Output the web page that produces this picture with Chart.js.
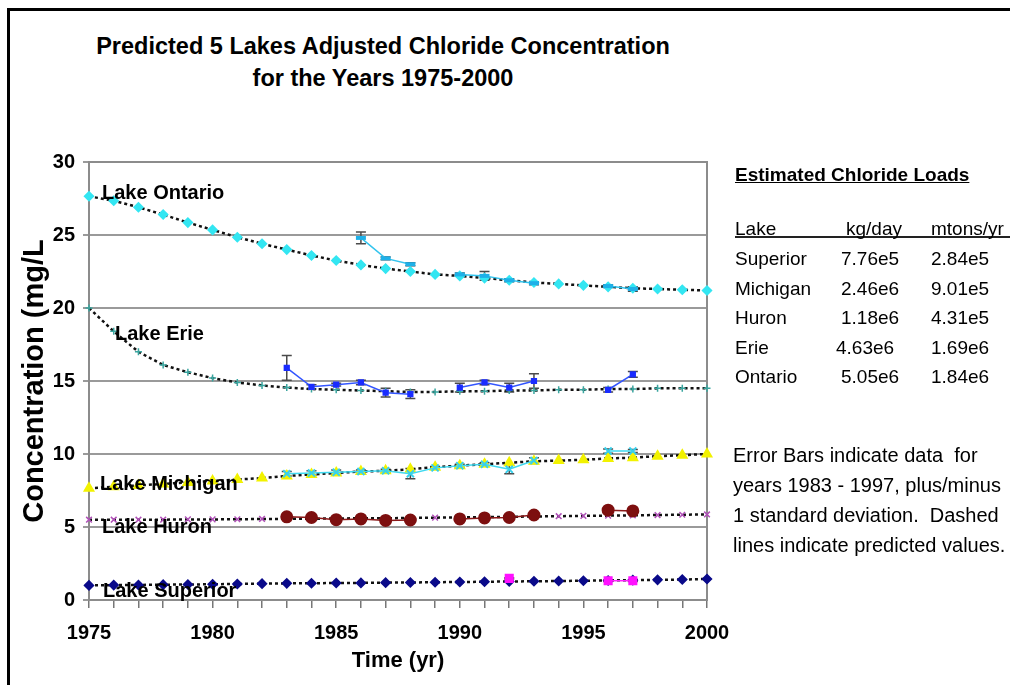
<!DOCTYPE html>
<html>
<head>
<meta charset="utf-8">
<script src="https://cdn.jsdelivr.net/npm/chart.js@4.4.1/dist/chart.umd.min.js"></script>
<style>
  body { margin: 0; background: #fff; }
  #wrap { position: relative; width: 1010px; height: 685px; overflow: hidden; font-family: 'Liberation Sans', Arial, sans-serif; color: #000; }
  #frame { position: absolute; left: 7px; top: 8px; width: 1100px; height: 800px; border-left: 3px solid #000; border-top: 3px solid #000; }
  #chart { position: absolute; left: 0; top: 0; }
  #title { position: absolute; left: 0; top: 30px; width: 766px; text-align: center; font-weight: bold; font-size: 23.5px; line-height: 32px; }
  .t { position: absolute; white-space: nowrap; line-height: 24px; margin-top: -12px; font-size: 19px; }
  #loadsTitle { font-weight: bold; text-decoration: underline; }
  #rule { position: absolute; left: 735px; top: 236px; width: 280px; height: 2px; background: #222; }
  #notes { position: absolute; left: 733px; top: 440px; font-size: 20px; line-height: 30px; white-space: pre; }
</style>
</head>
<body>
<div id="wrap">
  <div id="frame"></div>
  <div id="title">Predicted 5 Lakes Adjusted Chloride Concentration<br>for the Years 1975-2000</div>
  <canvas id="chart" width="1010" height="685"></canvas>
  <div class="t" id="loadsTitle" style="left:735px;top:175px">Estimated Chloride Loads</div>
  <div id="rule"></div>
  <div id="loads"></div>
  <div id="notes">Error Bars indicate data  for
years 1983 - 1997, plus/minus
1 standard deviation.  Dashed
lines indicate predicted values.</div>
</div>
<script>
// predicted values, one per year
const years = [1975, 1976, 1977, 1978, 1979, 1980, 1981, 1982, 1983, 1984, 1985, 1986, 1987,
  1988, 1989, 1990, 1991, 1992, 1993, 1994, 1995, 1996, 1997, 1998, 1999, 2000]
const ontarioPred = [27.65, 27.35, 26.9, 26.4, 25.85, 25.35, 24.85, 24.4, 24.0, 23.6, 23.25, 22.95, 22.7,
  22.5, 22.3, 22.2, 22.05, 21.9, 21.75, 21.65, 21.55, 21.45, 21.35, 21.3, 21.25, 21.2]
const eriePred = [20.0, 18.4, 17.0, 16.1, 15.6, 15.2, 14.9, 14.7, 14.55, 14.45, 14.4, 14.35, 14.3,
  14.25, 14.25, 14.3, 14.3, 14.35, 14.35, 14.4, 14.4, 14.45, 14.45, 14.5, 14.5, 14.5]
const michiganPred = [7.65, 7.75, 7.85, 7.95, 8.05, 8.15, 8.25, 8.35, 8.5, 8.6, 8.7, 8.8, 8.85,
  8.95, 9.1, 9.2, 9.3, 9.4, 9.5, 9.55, 9.6, 9.7, 9.75, 9.85, 9.92, 10.0]
const huronPred = [5.5, 5.5, 5.5, 5.5, 5.52, 5.52, 5.53, 5.55, 5.56, 5.57, 5.58, 5.6, 5.6,
  5.62, 5.64, 5.66, 5.68, 5.7, 5.72, 5.74, 5.76, 5.78, 5.8, 5.82, 5.84, 5.86]
const superiorPred = [1.0, 1.02, 1.03, 1.05, 1.06, 1.08, 1.1, 1.12, 1.14, 1.15, 1.16, 1.17, 1.19,
  1.2, 1.22, 1.23, 1.25, 1.27, 1.28, 1.3, 1.32, 1.34, 1.36, 1.38, 1.4, 1.44]

// measured means and standard deviations, 1983-1997
const measYears = [1983, 1984, 1985, 1986, 1987, 1988, 1989, 1990, 1991, 1992, 1993, 1994, 1995, 1996, 1997]
const ontarioMeas = [null, null, null, 24.8, 23.4, 23.0, null, 22.3, 22.2, 21.9, 21.7, null, null, 21.5, 21.3]
const ontarioSd = [null, null, null, 0.4, 0.1, 0.1, null, 0.1, 0.3, 0.1, 0.1, null, null, 0.1, 0.15]
const erieMeas = [15.9, 14.6, 14.75, 14.9, 14.2, 14.1, null, 14.55, 14.9, 14.55, 15.0, null, null, 14.4, 15.45]
const erieSd = [0.85, 0.15, 0.1, 0.15, 0.3, 0.3, null, 0.3, 0.15, 0.3, 0.5, null, null, 0.15, 0.2]
const michiganMeas = [8.65, 8.7, 8.75, 8.8, 8.85, 8.65, 9.05, 9.2, 9.3, 8.95, 9.55, null, null, 10.2, 10.2]
const michiganSd = [0.15, 0.15, 0.15, 0.1, 0.1, 0.35, 0.1, 0.1, 0.1, 0.3, 0.2, null, null, 0.15, 0.1]
const huronMeas = [5.7, 5.65, 5.5, 5.55, 5.45, 5.48, null, 5.55, 5.62, 5.65, 5.82, null, null, 6.15, 6.1]
const huronSd = [0.08, 0.08, 0.08, 0.08, 0.08, 0.08, null, 0.08, 0.08, 0.08, 0.08, null, null, 0.08, 0.08]
const superiorMeas = [null, null, null, null, null, null, null, null, null, 1.48, null, null, null, 1.32, 1.32]
const superiorSd = [null, null, null, null, null, null, null, null, null, 0.05, null, null, null, 0.05, 0.05]

// load table
const loadLakes = ['Superior', 'Michigan', 'Huron', 'Erie', 'Ontario']
const loadKgDay = ['7.76e5', '2.46e6', '1.18e6', '4.63e6', '5.05e6']
const loadMtons = ['2.84e5', '9.01e5', '4.31e5', '1.69e6', '1.84e6']

const loads = document.getElementById('loads')
function addText(txt, left, top) {
  const d = document.createElement('div')
  d.className = 't'
  d.style.left = left + 'px'
  d.style.top = top + 'px'
  d.textContent = txt
  loads.appendChild(d)
}
addText('Lake', 735, 229)
addText('kg/day', 846, 229)
addText('mtons/yr', 931, 229)
loadLakes.forEach((lake, i) => {
  const top = 259 + i * 29.6
  addText(lake, 735, top)
  addText(loadKgDay[i], lake === 'Erie' ? 836 : 841, top)
  addText(loadMtons[i], 931, top)
})

const pts = (xs, ys) => xs.map((x, i) => ({ x: x, y: ys[i] }))

function predicted(label, values, color, style, radius) {
  return {
    label: label,
    data: pts(years, values),
    borderColor: '#111',
    borderWidth: 2.5,
    borderDash: [3, 3],
    pointStyle: style,
    pointRadius: radius,
    pointBackgroundColor: color,
    pointBorderColor: color,
    pointBorderWidth: 1.5,
    clip: false
  }
}

function measured(label, values, sd, color, style, radius, pointColor) {
  return {
    label: label,
    data: pts(measYears, values),
    sd: sd,
    borderColor: color,
    borderWidth: 1.5,
    spanGaps: false,
    pointStyle: style,
    pointRadius: radius,
    pointBackgroundColor: pointColor || color,
    pointBorderColor: pointColor || color,
    pointBorderWidth: style === 'line' ? 4 : 2,
    clip: false
  }
}

const plotBorder = {
  id: 'plotBorder',
  beforeDatasetsDraw(chart) {
    const { ctx, chartArea: a } = chart
    ctx.save()
    ctx.strokeStyle = '#8c8c8c'
    ctx.lineWidth = 2
    ctx.strokeRect(a.left, a.top, a.right - a.left, a.bottom - a.top)
    ctx.restore()
  }
}

const errorBars = {
  id: 'errorBars',
  beforeDatasetsDraw(chart) {
    const { ctx, scales: { x, y } } = chart
    ctx.save()
    ctx.strokeStyle = '#4a4a4a'
    ctx.lineWidth = 1.5
    chart.data.datasets.forEach((ds) => {
      if (!ds.sd) return
      ds.data.forEach((p, i) => {
        const sd = ds.sd[i]
        if (p.y == null || !sd) return
        const px = x.getPixelForValue(p.x)
        const top = y.getPixelForValue(p.y + sd)
        const bot = y.getPixelForValue(p.y - sd)
        ctx.beginPath()
        ctx.moveTo(px, top); ctx.lineTo(px, bot)
        ctx.moveTo(px - 5, top); ctx.lineTo(px + 5, top)
        ctx.moveTo(px - 5, bot); ctx.lineTo(px + 5, bot)
        ctx.stroke()
      })
    })
    ctx.restore()
  }
}

// lake names written next to the 1975 end of each curve
const lakeLabels = {
  id: 'lakeLabels',
  afterDatasetsDraw(chart) {
    const { ctx, scales: { x, y } } = chart
    const items = [
      ['Lake Ontario', 13, 27.85],
      ['Lake Erie', 26, 18.2],
      ['Lake Michigan', 11, 7.9],
      ['Lake Huron', 13, 5.0],
      ['Lake Superior', 14, 0.55]
    ]
    ctx.save()
    ctx.fillStyle = '#000'
    ctx.font = 'bold 20px "Liberation Sans", Arial, sans-serif'
    ctx.textBaseline = 'middle'
    items.forEach(([text, dx, v]) => {
      ctx.fillText(text, x.getPixelForValue(years[0]) + dx, y.getPixelForValue(v))
    })
    ctx.restore()
  }
}

Chart.defaults.font.family = '"Liberation Sans", Arial, sans-serif'

new Chart(document.getElementById('chart'), {
  type: 'line',
  data: {
    datasets: [
      measured('Ontario data', ontarioMeas, ontarioSd, '#33c4ee', 'line', 5, '#1eb0e8'),
      measured('Erie data', erieMeas, erieSd, '#3355ff', 'rect', 3, '#1a2cff'),
      measured('Michigan data', michiganMeas, michiganSd, '#3fd9f0', 'crossRot', 5, '#38d0ec'),
      measured('Huron data', huronMeas, huronSd, '#8b1a1a', 'circle', 5.5, '#7d0f0f'),
      measured('Superior data', superiorMeas, superiorSd, '#ff22ff', 'rect', 5, '#ff10ff'),
      predicted('Lake Ontario', ontarioPred, '#33e6f2', 'rectRot', 4.5),
      predicted('Lake Erie', eriePred, '#3aa6a0', 'cross', 3.5),
      predicted('Lake Michigan', michiganPred, '#f2f200', 'triangle', 5.5),
      predicted('Lake Huron', huronPred, '#b050b8', 'crossRot', 4),
      predicted('Lake Superior', superiorPred, '#0a0a8a', 'rectRot', 4.5)
    ]
  },
  options: {
    responsive: false,
    animation: false,
    layout: { padding: { top: 162, right: 303, bottom: 0, left: 0 } },
    plugins: { legend: { display: false }, tooltip: { enabled: false } },
    scales: {
      x: {
        type: 'linear',
        min: 1975,
        max: 2000,
        afterFit(s) { s.height = 85 },
        afterBuildTicks(s) { s.ticks = years.map((v) => ({ value: v })) },
        ticks: {
          autoSkip: false,
          maxRotation: 0,
          padding: 13,
          color: '#000',
          font: { size: 20, weight: 'bold' },
          callback: (v) => (v % 5 === 0 ? String(v) : '')
        },
        grid: { drawOnChartArea: false, drawTicks: true, tickLength: 8, color: '#777', lineWidth: 1.5 },
        border: { color: '#888', width: 2 },
        title: { display: true, text: 'Time (yr)', color: '#000', font: { size: 22, weight: 'bold' }, padding: { top: 0, bottom: 11 } }
      },
      y: {
        min: 0,
        max: 30,
        afterFit(s) { s.width = 89 },
        ticks: { stepSize: 5, padding: 8, color: '#000', font: { size: 20, weight: 'bold' } },
        grid: { color: '#9a9a9a', lineWidth: 2, tickLength: 6 },
        border: { color: '#888', width: 2 },
        title: { display: true, text: 'Concentration (mg/L', color: '#000', font: { size: 29, weight: 'bold' }, padding: { top: 18, bottom: 0 } }
      }
    }
  },
  plugins: [plotBorder, errorBars, lakeLabels]
})
</script>
</body>
</html>
